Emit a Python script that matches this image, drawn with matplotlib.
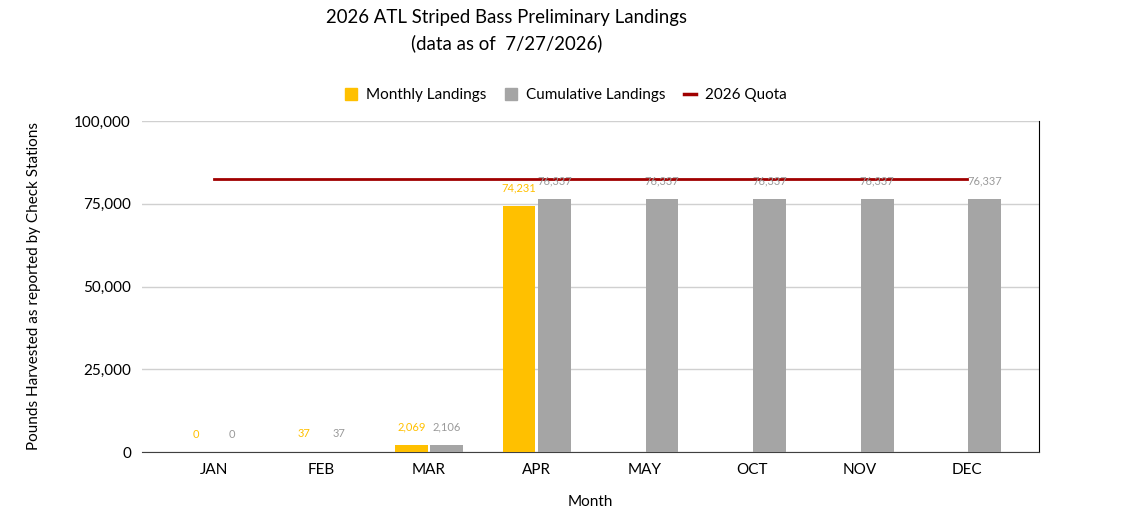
import matplotlib

matplotlib.use("Agg")
import matplotlib.pyplot as plt
import numpy as np
from matplotlib.lines import Line2D
from matplotlib.patches import Patch

plt.rcParams["font.family"] = ["Lato", "DejaVu Sans"]

months = ["JAN", "FEB", "MAR", "APR", "MAY", "OCT", "NOV", "DEC"]
monthly = [0, 37, 2069, 74231]  # only Jan-Apr reported
cumulative = [0, 37, 2106, 76337, 76337, 76337, 76337, 76337]
quota = 82500
yticks = [0, 25000, 50000, 75000, 100000]

YELLOW = "#FFC000"
GREY = "#A5A5A5"
RED = "#A00000"

fig = plt.figure(figsize=(11.32, 5.31), dpi=100)
ax = fig.add_axes([142 / 1132, 79 / 531, 897 / 1132, 331 / 531])

x = np.arange(len(months))
w = 0.305
gap = 0.012
xm = x[: len(monthly)] - w / 2 - gap
xc = x + w / 2 + gap

ax.bar(xm, monthly, width=w, color=YELLOW, zorder=3)
ax.bar(xc, cumulative, width=w, color=GREY, zorder=3)
ax.plot(x, [quota] * len(months), color=RED, linewidth=2.0, zorder=4)

for xi, v in zip(xm, monthly):
    ax.annotate(f"{v:,}", (xi, v), xytext=(0, 9), textcoords="offset points",
                ha="center", va="bottom", fontsize=8, color=YELLOW, zorder=5)
for xi, v in zip(xc, cumulative):
    ax.annotate(f"{v:,}", (xi, v), xytext=(0, 9), textcoords="offset points",
                ha="center", va="bottom", fontsize=8, color="#9a9a9a", zorder=5)

ax.set_ylim(0, 100000)
ax.set_xlim(-0.5 - 18 / 107.5, len(months) - 0.5 + 18 / 107.5)
ax.set_yticks(yticks)
ax.set_yticklabels([f"{t:,}" for t in yticks], fontsize=11)
ax.set_xticks(x)
ax.set_xticklabels(months, fontsize=11)
ax.tick_params(axis="both", length=0, pad=8)
ax.grid(axis="y", color="#d0d0d0", linewidth=1, zorder=0)

for side in ("left", "top"):
    ax.spines[side].set_visible(False)
ax.spines["bottom"].set_color("#404040")
ax.spines["right"].set_color("black")

ax.set_ylabel("Pounds Harvested as reported by Check Stations", fontsize=11, labelpad=24)
ax.set_xlabel("Month", fontsize=11, labelpad=13)

fig.text(507 / 1132, 1 - 18 / 531, "2026 ATL Striped Bass Preliminary Landings",
         ha="center", va="center", fontsize=13.4)
fig.text(507 / 1132, 1 - 43 / 531, "(data as of  7/27/2026)",
         ha="center", va="center", fontsize=13.4)

handles = [
    Patch(color=YELLOW, label="Monthly Landings"),
    Patch(color=GREY, label="Cumulative Landings"),
    Line2D([], [], color=RED, linewidth=2.5, label="2026 Quota"),
]
fig.legend(handles=handles, loc="center", bbox_to_anchor=(566 / 1132, 1 - 95 / 531),
           ncol=3, frameon=False, fontsize=11, handlelength=0.8, handleheight=0.8,
           handletextpad=0.6, columnspacing=1.2)

fig.savefig("out.png", dpi=100)
